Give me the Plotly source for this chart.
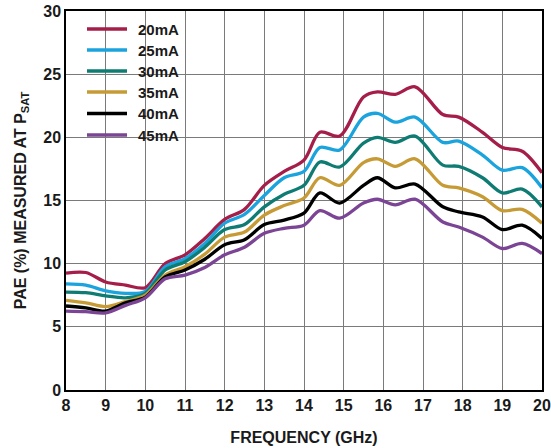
import plotly.graph_objects as go

# Frequency sample points (GHz)
freq = [8, 8.5, 9, 9.5, 10, 10.5, 11, 11.5, 12, 12.5, 13, 13.5, 14, 14.4, 14.9,
        15.5, 15.85, 16.3, 16.8, 17.5, 17.9, 18.5, 19, 19.5, 20]

# PAE (%) at Psat for each quiescent drain current
pae_20ma = [9.25, 9.3, 8.55, 8.3, 8.1, 10.0, 10.7, 12.0, 13.5, 14.3, 16.2, 17.3, 18.2, 20.4, 20.1,
            23.2, 23.6, 23.4, 24.0, 21.8, 21.6, 20.4, 19.2, 18.9, 17.2]
pae_25ma = [8.4, 8.3, 7.85, 7.65, 7.8, 9.75, 10.4, 11.6, 13.2, 13.9, 15.4, 16.8, 17.3, 19.2, 19.0,
            21.6, 21.9, 21.2, 21.6, 19.6, 19.7, 18.6, 17.4, 17.6, 16.0]
pae_30ma = [7.75, 7.7, 7.45, 7.3, 7.65, 9.5, 10.15, 11.3, 12.7, 13.1, 14.5, 15.5, 16.2, 18.05, 17.65,
            19.55, 20.0, 19.6, 20.1, 17.8, 17.7, 16.8, 15.6, 15.9, 14.5]
pae_35ma = [7.1, 6.9, 6.6, 7.0, 7.5, 9.1, 9.75, 10.75, 12.1, 12.5, 13.85, 14.6, 15.2, 16.8, 16.2,
            18.0, 18.3, 17.7, 18.3, 16.2, 16.0, 15.3, 14.2, 14.3, 13.2]
pae_40ma = [6.65, 6.5, 6.25, 6.9, 7.35, 8.95, 9.5, 10.35, 11.5, 11.9, 13.1, 13.45, 14.0, 15.6, 14.8,
            16.2, 16.8, 16.0, 16.3, 14.5, 14.1, 13.7, 12.7, 13.05, 12.0]
pae_45ma = [6.25, 6.2, 6.1, 6.7, 7.3, 8.8, 9.1, 9.7, 10.7, 11.3, 12.4, 12.8, 13.05, 14.2, 13.6,
            14.8, 15.1, 14.65, 15.1, 13.3, 12.9, 12.1, 11.2, 11.6, 10.8]

series_names = ["20mA", "25mA", "30mA", "35mA", "40mA", "45mA"]
series_values = [pae_20ma, pae_25ma, pae_30ma, pae_35ma, pae_40ma, pae_45ma]
series_colors = ["#A51E4A", "#1BA3DD", "#0E7C73", "#C69B36", "#000000", "#7B4495"]

x_ticks = list(range(8, 21))
y_ticks = [0, 5, 10, 15, 20, 25, 30]

W, H = 551, 448
ML, MR, MT, MB = 66, 9, 11, 58
PW, PH = W - ML - MR, H - MT - MB

def px_to_paper(px, py):
    return (px - ML) / PW, (H - MB - py) / PH

font_family = "Liberation Sans, Arial, sans-serif"
bold15 = dict(family=font_family, size=15, color="#1a1a1a", weight="bold")
bold16 = dict(family=font_family, size=16, color="#1a1a1a", weight="bold")

fig = go.Figure()
for name, vals, col in zip(series_names, series_values, series_colors):
    fig.add_trace(go.Scatter(
        x=freq, y=vals, name=name, mode="lines", showlegend=False,
        line=dict(color=col, width=3.3, shape="spline", smoothing=0.9),
    ))

# Key box in the upper-left corner (white fill hides the grid behind it)
shapes = []
annotations = []
bx0, by0 = px_to_paper(72, 143)
bx1, by1 = px_to_paper(185, 16)
shapes.append(dict(type="rect", xref="paper", yref="paper", x0=bx0, y0=by0, x1=bx1, y1=by1,
                   fillcolor="#ffffff", line=dict(width=0), layer="between"))
row_y = [29, 50, 71, 92, 113.5, 135]
for name, col, ry in zip(series_names, series_colors, row_y):
    lx0, ly = px_to_paper(87, ry)
    lx1, _ = px_to_paper(127, ry)
    tx, _ = px_to_paper(136, ry)
    shapes.append(dict(type="line", xref="paper", yref="paper", x0=lx0, x1=lx1, y0=ly, y1=ly,
                       line=dict(color=col, width=3.3), layer="above"))
    annotations.append(dict(text=name, xref="paper", yref="paper", x=tx, y=ly,
                            xanchor="left", yanchor="middle", showarrow=False, font=bold15))

axis_common = dict(
    showline=True, linecolor="#000000", linewidth=1.5, mirror=True,
    showgrid=True, gridcolor="#7a7a7a", gridwidth=1.2,
    zeroline=False, ticks="", automargin=False,
    tickfont=bold16,
)

fig.update_layout(
    width=W, height=H,
    margin=dict(l=ML, r=MR, t=MT, b=MB, autoexpand=False),
    paper_bgcolor="#ffffff", plot_bgcolor="#ffffff",
    font=dict(family=font_family, color="#1a1a1a"),
    xaxis=dict(
        range=[8, 20], tickvals=x_ticks, ticktext=[str(t) for t in x_ticks],
        title=dict(text="FREQUENCY (GHz)", standoff=19, font=bold16),
        **axis_common,
    ),
    yaxis=dict(
        range=[0, 30], tickvals=y_ticks, ticktext=[str(t) for t in y_ticks],
        title=dict(text="PAE (%) MEASURED AT P<sub>SAT</sub>", standoff=13, font=bold16),
        **axis_common,
    ),
    shapes=shapes,
    annotations=annotations,
    showlegend=False,
)

fig.write_html("out.html")
